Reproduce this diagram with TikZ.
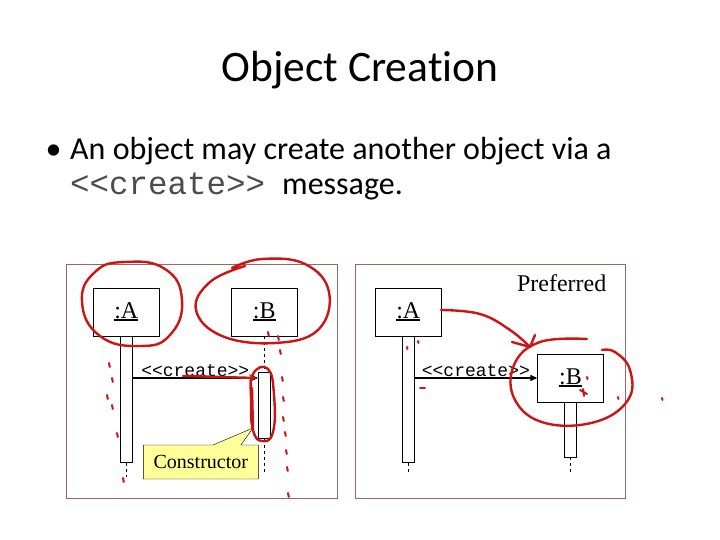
\documentclass[tikz,border=0pt]{standalone}
\usepackage{fontspec}
\setmainfont{Liberation Serif}
\setmonofont{Liberation Mono}
\newfontfamily\slidefont[Ligatures=NoCommon]{Carlito}
\usetikzlibrary{arrows.meta,shapes.callouts}
\definecolor{framered}{RGB}{160,100,100}
\definecolor{inkred}{RGB}{205,20,20}
\definecolor{noteyellow}{RGB}{255,255,153}
\newcommand{\uname}[1]{\setbox0\hbox{#1}\rlap{\rule[-3pt]{\wd0}{2pt}}\box0}

\begin{document}
\begin{tikzpicture}[x=1pt,y=-1pt,
  objbox/.style={draw,fill=white,minimum width=66pt,minimum height=48pt,font=\fontsize{24}{24}\selectfont},
  actbar/.style={draw,fill=white,minimum width=12pt,inner sep=0pt},
  framebox/.style={draw=framered,line width=0.9pt},
  lifeline/.style={dashed,line width=0.5pt},
  msg/.style={-{Triangle[length=7pt,width=6pt]},line width=1.3pt},
  msglabel/.style={above,inner sep=1pt,font=\ttfamily\fontsize{18}{18}\selectfont},
  note/.style={draw,fill=noteyellow,rectangle callout,callout pointer width=28pt,
    minimum width=115pt,minimum height=34pt,font=\fontsize{20}{20}\selectfont},
  scribble/.style={draw=inkred,line width=2.4pt,line cap=round,line join=round}]
\useasboundingbox (0,0) rectangle (720,540);

% slide text
\node[font=\slidefont\fontsize{43.5}{43.5}\selectfont] (title) at (360,70) {Object Creation};
\node[anchor=base west,font=\slidefont\fontsize{32}{32}\selectfont] (bullet) at (42,160) {\textbullet};
\node[anchor=base west,inner sep=0pt,font=\slidefont\fontsize{32}{32}\selectfont] (line1) at (70,160) {An object may create another object via a};
\node[anchor=base west,inner sep=0pt,text=black!70,font=\ttfamily\fontsize{32.5}{32.5}\selectfont] (line2) at (70,195) {<<create>>};
\node[anchor=base west,inner sep=0pt,font=\slidefont\fontsize{32}{32}\selectfont] (line3) at (282,195) {message.};

% frames
\draw[framebox] (66,264) rectangle (337,498);
\draw[framebox] (355,264) rectangle (625,498);

% left: creation into existing lifeline
\node[objbox] (a1) at (126.3,312) {\uname{:A}};
\node[objbox] (b1) at (264.3,312) {\uname{:B}};
\node[actbar,minimum height=126pt,anchor=north] (a1bar) at (a1.south) {};
\node[actbar,minimum height=66.6pt] (b1bar) at (264.3,405) {};
\coordinate (a1end) at (126.3,477);
\coordinate (b1end) at (264.3,473);
\coordinate (msg1) at (0,378);
\draw[lifeline] (a1bar.south) -- (a1end);
\draw[lifeline] (b1.south) -- (b1bar.north);
\draw[lifeline] (b1bar.south) -- (b1end);
\draw[msg] (a1bar.east |- msg1) -- (b1bar.west |- msg1) node[midway,msglabel] {<<create>>};
\coordinate (tip) at (253,428);
\node[note,callout absolute pointer={(tip)}] (cons) at (200.8,462) {Constructor};

% right: preferred
\node[font=\fontsize{24}{24}\selectfont] (pref) at (561.7,283) {Preferred};
\node[objbox] (a2) at (408.3,312) {\uname{:A}};
\node[objbox] (b2) at (570.5,378) {\uname{:B}};
\node[actbar,minimum height=126pt,anchor=north] (a2bar) at (a2.south) {};
\node[actbar,minimum height=54.3pt,anchor=north] (b2bar) at (b2.south) {};
\coordinate (a2end) at (408.3,474);
\coordinate (b2end) at (570.5,473);
\draw[lifeline] (a2bar.south) -- (a2end);
\draw[lifeline] (b2bar.south) -- (b2end);
\draw[msg] (a2bar.east |- b2.west) -- (b2.west) node[midway,msglabel] {<<create>>};

% red pen marks
\draw[scribble] plot[smooth cycle,tension=0.8] coordinates {(125,262) (165,269) (182,300) (170,335) (140,346) (100,336) (82,302) (95,272)};
\draw[scribble] plot[smooth,tension=0.7] coordinates {(232,268) (262,259) (305,264) (329,292) (318,330) (275,343) (222,336) (196,310) (210,282) (245,266)};
\draw[scribble] plot[smooth cycle,tension=0.8] coordinates {(253,374) (268,369) (274,395) (273,432) (262,441) (253,430) (251,400)};
\draw[scribble] (252,388) -- (253,428);
\draw[scribble,-{Stealth[length=8pt,width=7pt]}] (183,376) -- (257,378);
\foreach \px/\py in {109/363,112/378,107/395,112/405,117/433,123/478,268/332,278/336,
  280/350,282/377,283/397,283/417,285/432,286/450,287/467,288/493}
  \draw[scribble,line width=2pt] (\px,\py) -- ++(0.8,4);
\draw[scribble] plot[smooth,tension=0.7] coordinates {(441,310) (480,314) (510,330) (530,347)};
\draw[scribble] (512,342) -- (530,347) -- (535,335);
\draw[scribble] plot[smooth,tension=0.7] coordinates {(587,339) (540,342) (514,365) (515,400) (545,423) (595,422) (628,400) (630,370) (615,352) (602,350)};
\foreach \px/\py in {418/341,407/347,587/377,618/397,662/398}
  \draw[scribble,line width=2pt] (\px,\py) -- ++(0.5,2);
\draw[scribble,line width=2pt] (420,388) -- (425,388);
\draw[scribble,line width=2pt] (580,390) -- (587,394) (583,389) -- (584,396);
\end{tikzpicture}
\end{document}
